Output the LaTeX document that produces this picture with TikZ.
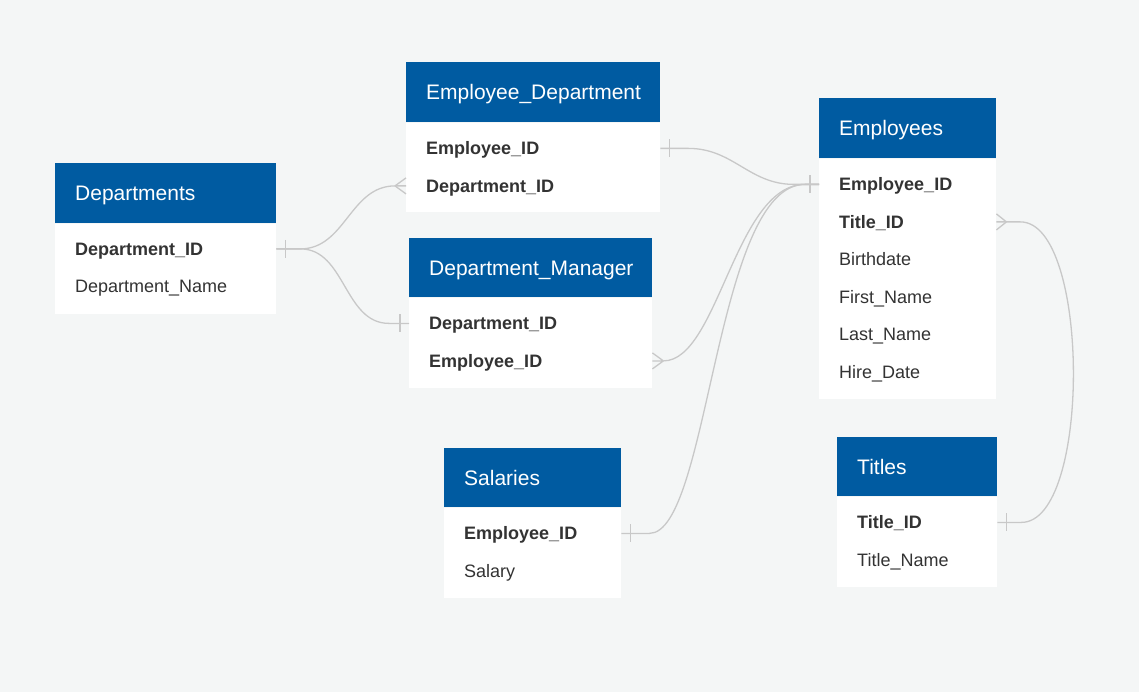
\documentclass[tikz,border=0pt]{standalone}
\usepackage{fontspec}
\setmainfont{Liberation Sans}
\usetikzlibrary{calc}
\definecolor{bg}{HTML}{F4F6F6}
\definecolor{hdrblue}{HTML}{005BA1}
\definecolor{txt}{HTML}{333333}
\definecolor{lineC}{HTML}{C8C8C8}
\begin{document}
\begin{tikzpicture}[x=1pt,y=-1pt,
 hdr/.style={fill=hdrblue, draw=none, anchor=north west, inner sep=0pt, minimum height=60pt},
 htxt/.style={anchor=west, inner sep=0pt, text=white, text height=15pt, text depth=0pt, font=\fontsize{21}{25}\selectfont},
 tbody/.style={fill=white, draw=none, anchor=north west, inner sep=0pt},
 fld/.style={anchor=west, inner sep=0pt, text=txt, text height=13pt, text depth=0pt, font=\fontsize{18}{22}\selectfont},
 key/.style={fld, font=\fontsize{18}{22}\selectfont\bfseries},
 conn/.style={draw=lineC, line width=1.3pt}]
\fill[bg] (0,0) rectangle (1139,692);
\useasboundingbox (0,0) rectangle (1139,692);

% Departments
\node[hdr, minimum width=221pt] (dep) at (55,163) {};
\node[htxt] (depT) at ([xshift=20pt]dep.west) {Departments};
\node[tbody, minimum width=221pt, minimum height=90pt] (depB) at (dep.south west) {};
\node[key] (dep1) at ([xshift=20pt,yshift=-25.5pt]depB.north west) {Department\_ID};
\node[fld] (dep2) at ([yshift=-37.5pt]dep1.west) {Department\_Name};

% Employee_Department
\node[hdr, minimum width=254pt] (ed) at (406,62) {};
\node[htxt] (edT) at ([xshift=20pt]ed.west) {Employee\_Department};
\node[tbody, minimum width=254pt, minimum height=89pt] (edB) at (ed.south west) {};
\node[key] (ed1) at ([xshift=20pt,yshift=-26pt]edB.north west) {Employee\_ID};
\node[key] (ed2) at ([yshift=-37.5pt]ed1.west) {Department\_ID};

% Department_Manager
\node[hdr, minimum width=243pt, minimum height=59pt] (dm) at (409,238) {};
\node[htxt] (dmT) at ([xshift=20pt]dm.west) {Department\_Manager};
\node[tbody, minimum width=243pt, minimum height=90pt] (dmB) at (dm.south west) {};
\node[key] (dm1) at ([xshift=20pt,yshift=-26pt]dmB.north west) {Department\_ID};
\node[key] (dm2) at ([yshift=-37.5pt]dm1.west) {Employee\_ID};

% Salaries
\node[hdr, minimum width=177pt, minimum height=59pt] (sal) at (444,448) {};
\node[htxt] (salT) at ([xshift=20pt]sal.west) {Salaries};
\node[tbody, minimum width=177pt, minimum height=90pt] (salB) at (sal.south west) {};
\node[key] (sal1) at ([xshift=20pt,yshift=-26pt]salB.north west) {Employee\_ID};
\node[fld] (sal2) at ([yshift=-37.5pt]sal1.west) {Salary};

% Employees
\node[hdr, minimum width=177pt] (emp) at (819,98) {};
\node[htxt] (empT) at ([xshift=20pt]emp.west) {Employees};
\node[tbody, minimum width=177pt, minimum height=240pt] (empB) at (emp.south west) {};
\node[key] (emp1) at ([xshift=20pt,yshift=-26pt]empB.north west) {Employee\_ID};
\node[key] (emp2) at ([yshift=-37.5pt]emp1.west) {Title\_ID};
\node[fld] (emp3) at ([yshift=-37.5pt]emp2.west) {Birthdate};
\node[fld] (emp4) at ([yshift=-37.5pt]emp3.west) {First\_Name};
\node[fld] (emp5) at ([yshift=-37.5pt]emp4.west) {Last\_Name};
\node[fld] (emp6) at ([yshift=-37.5pt]emp5.west) {Hire\_Date};

% Titles
\node[hdr, minimum width=160pt, minimum height=59pt] (tit) at (837,437) {};
\node[htxt] (titT) at ([xshift=20pt]tit.west) {Titles};
\node[tbody, minimum width=160pt, minimum height=90pt] (titB) at (tit.south west) {};
\node[key] (tit1) at ([xshift=20pt,yshift=-26pt]titB.north west) {Title\_ID};
\node[fld] (tit2) at ([yshift=-37.5pt]tit1.west) {Title\_Name};

% connector end points
\coordinate (a) at (depB.east |- dep1);
\coordinate (b) at (edB.west |- ed2);
\coordinate (c) at (dmB.west |- dm1);
\coordinate (d) at (edB.east |- ed1);
\coordinate (e) at (empB.west |- emp1);
\coordinate (f) at (dmB.east |- dm2);
\coordinate (g) at (salB.east |- sal1);
\coordinate (h) at (empB.east |- emp2);
\coordinate (i) at (titB.east |- tit1);

% Departments -> Employee_Department (one to many)
\draw[conn] (a) -- ++(24,0) .. controls +(45,0) and +(-45,0) .. ($(b)+(-11,0)$) -- (b);
\draw[conn] (a) ++(9,-9) -- ++(0,18);
\draw[conn] (b) ++(-11,0) -- ++(11,-8) (b) ++(-11,0) -- ++(11,8);
% Departments -> Department_Manager (one to one)
\draw[conn] (a) -- ++(24,0) .. controls +(45,0) and +(-45,0) .. ($(c)+(-20,0)$) -- (c);
\draw[conn] (c) ++(-9,-9) -- ++(0,18);
% Employee_Department -> Employees
\draw[conn] (d) -- ++(28,0) .. controls +(45,0) and +(-45,0) .. ($(e)+(-25,0)$) -- (e);
\draw[conn] (d) ++(9,-9) -- ++(0,18);
\draw[conn] (e) ++(-9,-9) -- ++(0,18);
% Department_Manager -> Employees
\draw[conn] ($(f)+(11,0)$) .. controls +(55,0) and +(-70,0) .. ($(e)+(-14,0)$) -- (e);
\draw[conn] (f) ++(11,0) -- ++(-11,-8) (f) ++(11,0) -- ++(-11,8) (f) -- ++(11,0);
% Salaries -> Employees
\draw[conn] (g) -- ++(28,0) .. controls +(60,0) and +(-90,0) .. ($(e)+(-14,0)$) -- (e);
\draw[conn] (g) ++(9,-9) -- ++(0,18);
% Employees -> Titles
\draw[conn] (h) -- ++(24,0) .. controls +(70,0) and +(70,0) .. ($(i)+(24,0)$) -- (i);
\draw[conn] (h) ++(10,0) -- ++(-10,-8) (h) ++(10,0) -- ++(-10,8);
\draw[conn] (i) ++(9,-9) -- ++(0,18);
\end{tikzpicture}
\end{document}
